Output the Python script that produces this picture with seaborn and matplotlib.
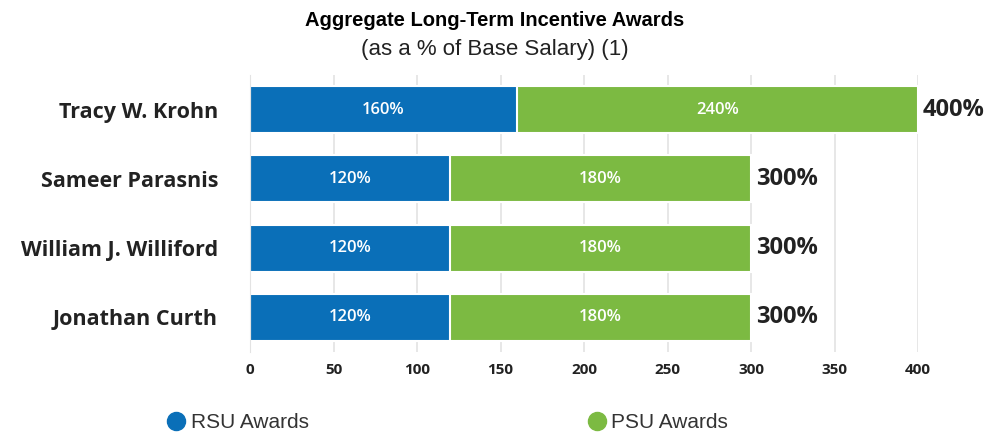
import matplotlib
matplotlib.use('Agg')
import matplotlib.pyplot as plt
from matplotlib.lines import Line2D
import pandas as pd
import seaborn as sns

names = ['Tracy W. Krohn', 'Sameer Parasnis', 'William J. Williford', 'Jonathan Curth']
rsu = [160, 120, 120, 120]
psu = [240, 180, 180, 180]
ticks = [0, 50, 100, 150, 200, 250, 300, 350, 400]

BLUE = '#0a6fb8'
GREEN = '#7cba42'

df = pd.DataFrame({'name': names, 'rsu': rsu, 'psu': psu})
df['total'] = df['rsu'] + df['psu']

sns.set_style('white')
plt.rcParams['font.family'] = ['Open Sans', 'DejaVu Sans']

fig = plt.figure(figsize=(9.9, 4.32), dpi=100)
ax = fig.add_axes([250 / 990, 1 - 352 / 432, 668 / 990, 277 / 432])

# stacked bars: totals in green, RSU part drawn on top in blue
sns.barplot(data=df, y='name', x='total', color=GREEN, orient='h',
            width=0.68, edgecolor='white', linewidth=1.5, saturation=1, ax=ax)
sns.barplot(data=df, y='name', x='rsu', color=BLUE, orient='h',
            width=0.68, edgecolor='white', linewidth=1.5, saturation=1, ax=ax)

for i, row in df.iterrows():
    ax.text(row['rsu'] / 2, i, f"{row['rsu']}%", color='white',
            ha='center', va='center', fontsize=12, fontweight='semibold')
    ax.text(row['rsu'] + row['psu'] / 2, i, f"{row['psu']}%", color='white',
            ha='center', va='center', fontsize=12, fontweight='semibold')
    ax.text(row['total'] + 3, i, f"{row['total']}%", color='#222222',
            ha='left', va='center', fontsize=17, fontweight='bold')

ax.set_xlim(0, 400)
ax.set_ylim(3.5, -0.5)
ax.set_xticks(ticks)
ax.set_xticklabels([str(t) for t in ticks], fontsize=11, fontweight='bold',
                   color='#222222')
ax.tick_params(axis='x', length=0, pad=8)
ax.tick_params(axis='y', length=0, pad=23)
for lbl in ax.get_yticklabels():
    lbl.set_fontsize(15.5)
    lbl.set_fontweight('bold')
    lbl.set_color('#222222')
ax.set_xlabel('')
ax.set_ylabel('')
ax.grid(axis='x', color='#e3e3e3', linewidth=1.2)
ax.set_axisbelow(True)
for side in ['top', 'right', 'bottom']:
    ax.spines[side].set_visible(False)
ax.spines['left'].set_color('#e3e3e3')

fig.text(0.5, 1 - 21 / 432, 'Aggregate Long-Term Incentive Awards',
         ha='center', va='center', fontsize=14.5, fontweight='bold',
         family=['Liberation Sans', 'DejaVu Sans'], color='black')
fig.text(0.5, 1 - 50 / 432, '(as a % of Base Salary) (1)',
         ha='center', va='center', fontsize=16,
         family=['Liberation Sans', 'DejaVu Sans'], color='#222222')

handles = [Line2D([], [], marker='o', linestyle='', markersize=13,
                  markerfacecolor=BLUE, markeredgecolor=BLUE, label='RSU Awards'),
           Line2D([], [], marker='o', linestyle='', markersize=13,
                  markerfacecolor=GREEN, markeredgecolor=GREEN, label='PSU Awards')]
leg = fig.legend(handles=handles, loc='center', ncol=2, frameon=False,
                 bbox_to_anchor=(446 / 990, 1 - 423 / 432), columnspacing=13.2,
                 handletextpad=0.1, handlelength=1.2,
                 prop={'family': ['Liberation Sans', 'DejaVu Sans'], 'size': 15})
for t in leg.get_texts():
    t.set_color('#333333')

fig.savefig('out.png', dpi=100)
